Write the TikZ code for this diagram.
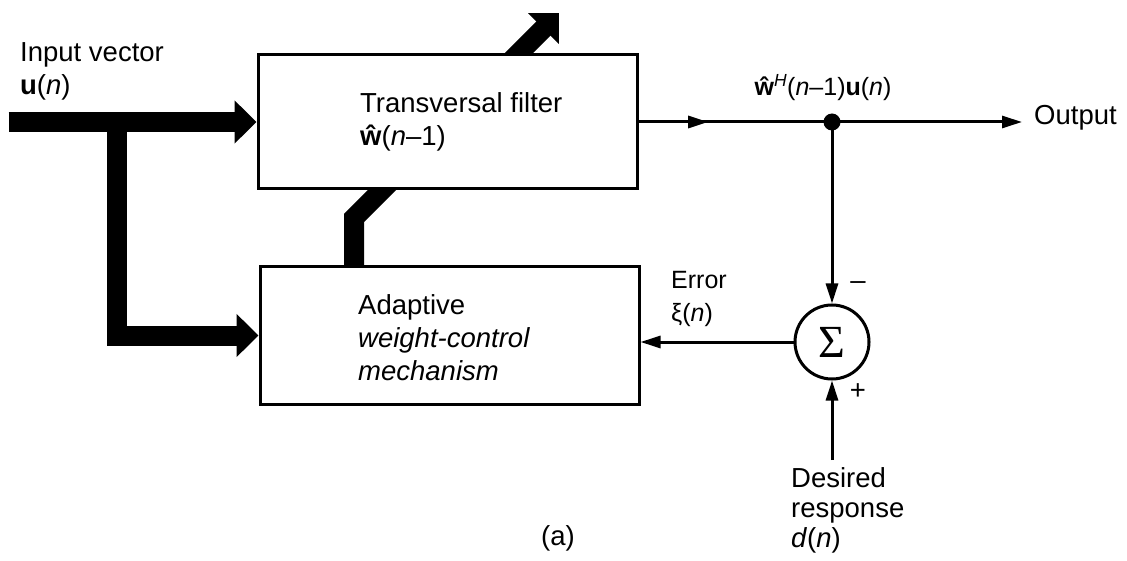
\documentclass[tikz,border=0pt]{standalone}
\usepackage{fontspec}
\setmainfont{Liberation Sans}
\newfontfamily\sigmafont{Liberation Serif}
\usetikzlibrary{arrows.meta,decorations.markings}
\begin{document}
\begin{tikzpicture}[x=1pt,y=-1pt,
  every node/.style={font=\fontsize{27.5}{33}\selectfont, inner sep=0pt},
  blk/.style={draw, line width=3pt, fill=white, minimum width=379pt, minimum height=135pt},
  thinln/.style={line width=3pt},
  tarr/.style={thinln, -{Triangle[length=20pt,width=12pt]}},
  fat/.style={line width=20pt, line join=miter},
  fatarr/.style={fat, -{Triangle[length=22pt,width=42pt]}},
  lbl/.style={align=left, anchor=west},
  small/.style={font=\fontsize{25}{33}\selectfont},
]
\useasboundingbox (0,0) rectangle (1127,561);

% adaptive block
\node[blk, minimum height=137pt] (a) at (449.5,335.5) {};
% thick weight-update arrow (behind filter block)
\coordinate (k) at (354,218);
\coordinate (tip) at (559,13);
\draw[fatarr] (a.north -| k) -- (k) -- (tip);
% transversal filter block
\node[blk, minimum height=134pt] (f) at (447.5,122) {};

% texts in blocks
\node[lbl] (ftext) at (360,122) {Transversal filter\\\textbf{ŵ}(\textit{n}–1)};
\node[lbl] (atext) at (358,338) {Adaptive\\\textit{weight-control}\\\textit{mechanism}};

% input
\node[lbl] (intext) at (20,71) {Input vector\\\textbf{u}(\textit{n})};
\coordinate (in) at ([xshift=-248pt]f.west);
\coordinate (j) at ([xshift=-140pt]f.west);
\draw[fatarr] (in) -- (f.west);
\draw[fatarr] (j) |- (a.west);

% summing junction
\node[circle, draw, thinln, minimum size=74pt, font=\fontsize{46}{46}\sigmafont] (s) at (832,342) {Σ};
\node[circle, fill, minimum size=17pt] (d) at (s.north |- f.east) {};

\draw[thinln, postaction={decorate}, decoration={markings,
  mark=at position 0.36 with {\arrow{Triangle[length=20pt,width=12pt]}}}] (f.east) -- (d.center);
\coordinate (o) at ([xshift=190pt]d.center);
\draw[tarr] (d.center) -- (o);
\node[anchor=west] (out) at ([xshift=12pt,yshift=4pt]o) {Output};
\node[small] (wl) at (823,88) {\textbf{ŵ}\textsuperscript{\textit{H}}(\textit{n}–1)\textbf{u}(\textit{n})};

\draw[tarr] (d.center) -- (s.north);
\draw[tarr] (s.west) -- (a.east |- s.west);
\coordinate (dr) at ([yshift=-118pt]s.center);
\draw[tarr] (dr) -- (s.south);

\node (minus) at (858,286) {–};
\node (plus) at (858,392) {+};
\node[lbl, small] (err) at (671,299) {Error\\ξ(\textit{n})};
\node[lbl, font=\fontsize{27.5}{30}\selectfont] (des) at (791,510) {Desired\\response\\\textit{d}(\textit{n})};
\node (cap) at (558,538) {(a)};
\end{tikzpicture}
\end{document}
